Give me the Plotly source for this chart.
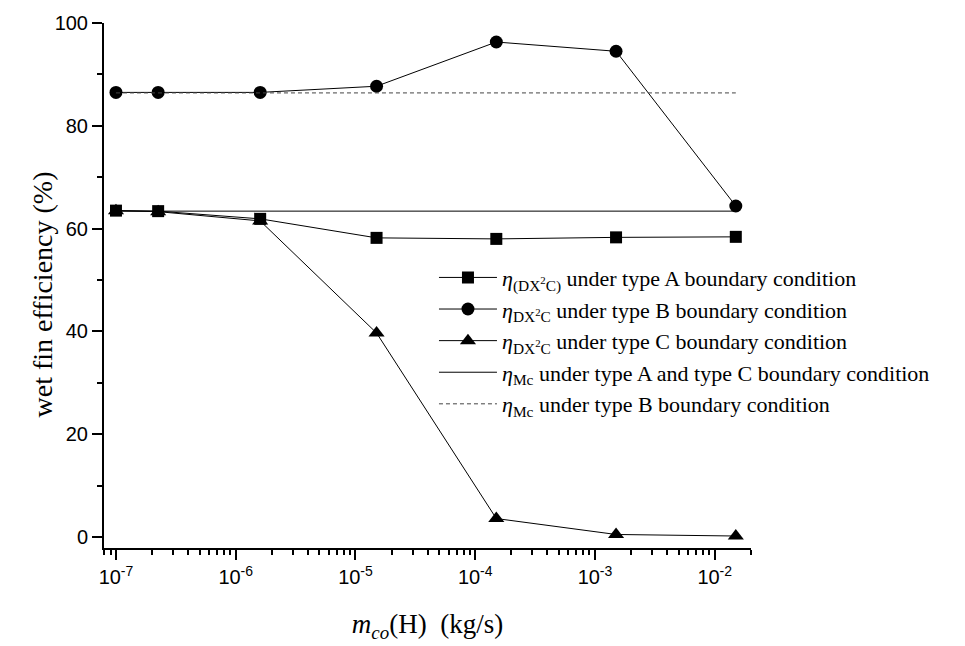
import plotly.graph_objects as go

# mass flow of condensate, kg/s
m_co = [1e-7, 2.25e-7, 1.6e-6, 1.5e-5, 1.5e-4, 1.5e-3, 1.5e-2]

# wet fin efficiency (%)
eta_A = [63.5, 63.4, 61.9, 58.2, 58.0, 58.3, 58.4]
eta_B = [86.5, 86.5, 86.5, 87.7, 96.3, 94.5, 64.4]
eta_C = [63.5, 63.3, 61.5, 39.7, 3.6, 0.5, 0.2]
eta_Mc_AC = [63.4, 63.4]
eta_Mc_B = [86.4, 86.4]
mc_span = [1e-7, 1.5e-2]

x_major = [1e-7, 1e-6, 1e-5, 1e-4, 1e-3, 1e-2]
x_major_text = ["10<sup>-7</sup>", "10<sup>-6</sup>", "10<sup>-5</sup>",
                "10<sup>-4</sup>", "10<sup>-3</sup>", "10<sup>-2</sup>"]
x_minor = [8e-8, 9e-8] + [k * 10.0 ** e for e in range(-7, -2) for k in range(2, 10)] + [2e-2]

y_major = [0, 20, 40, 60, 80, 100]
y_minor = [10, 30, 50, 70, 90]

serif = "Liberation Serif, Times New Roman, serif"
sans = "Liberation Sans, Arial, sans-serif"

fig = go.Figure()
fig.add_trace(go.Scatter(
    x=m_co, y=eta_A, mode="lines+markers",
    line=dict(color="black", width=1),
    marker=dict(symbol="square", size=12, color="black"),
    name="<i>η</i><sub>(DX<sup>2</sup>C)</sub> under type A boundary condition"))
fig.add_trace(go.Scatter(
    x=m_co, y=eta_B, mode="lines+markers",
    line=dict(color="black", width=1),
    marker=dict(symbol="circle", size=13, color="black"),
    name="<i>η</i><sub>DX<sup>2</sup>C</sub> under type B boundary condition"))
fig.add_trace(go.Scatter(
    x=m_co, y=eta_C, mode="lines+markers",
    line=dict(color="black", width=1),
    marker=dict(symbol="triangle-up", size=14, color="black"),
    name="<i>η</i><sub>DX<sup>2</sup>C</sub> under type C boundary condition"))
fig.add_trace(go.Scatter(
    x=mc_span, y=eta_Mc_AC, mode="lines",
    line=dict(color="black", width=1),
    name="<i>η</i><sub>Mc</sub> under type A and type C boundary condition"))
fig.add_trace(go.Scatter(
    x=mc_span, y=eta_Mc_B, mode="lines",
    line=dict(color="#444444", width=1, dash="4px,3px"),
    name="<i>η</i><sub>Mc</sub> under type B boundary condition"))

# y-axis title placed as a rotated annotation, a little below the axis middle
fig.add_annotation(
    text="wet fin efficiency (%)", textangle=-90,
    xref="paper", yref="paper", x=-0.0958, y=0.483,
    xanchor="center", yanchor="middle", showarrow=False,
    font=dict(family=serif, size=28, color="black"))

fig.update_layout(
    width=965, height=646,
    margin=dict(l=104, r=214, t=20, b=98),
    plot_bgcolor="white", paper_bgcolor="white",
    showlegend=True,
    legend=dict(
        x=0.51, y=0.555, xanchor="left", yanchor="top",
        font=dict(family=serif, size=22, color="black"),
        bgcolor="rgba(0,0,0,0)", itemwidth=58, tracegroupgap=0,
    ),
    xaxis=dict(
        type="log", range=[-7.10, -1.697],
        showgrid=False, zeroline=False,
        showline=True, linecolor="black", linewidth=2, mirror=False,
        tickmode="array", tickvals=x_major, ticktext=x_major_text,
        ticks="outside", ticklen=10, tickwidth=2, tickcolor="black",
        tickfont=dict(family=sans, size=20, color="black"),
        minor=dict(tickmode="array", tickvals=x_minor, ticks="outside",
                   ticklen=5, tickwidth=2, tickcolor="black", showgrid=False),
        title=dict(text="<i>m</i><sub><i>co</i></sub>(H)  (kg/s)",
                   font=dict(family=serif, size=27, color="black"), standoff=27),
    ),
    yaxis=dict(
        range=[-2.13, 100],
        showgrid=False, zeroline=False,
        showline=True, linecolor="black", linewidth=2, mirror=False,
        tickmode="array", tickvals=y_major,
        ticks="outside", ticklen=10, tickwidth=2, tickcolor="black",
        tickfont=dict(family=sans, size=20, color="black"),
        minor=dict(tickmode="array", tickvals=y_minor, ticks="outside",
                   ticklen=5, tickwidth=2, tickcolor="black", showgrid=False),
    ),
)

fig.write_html("out.html")
